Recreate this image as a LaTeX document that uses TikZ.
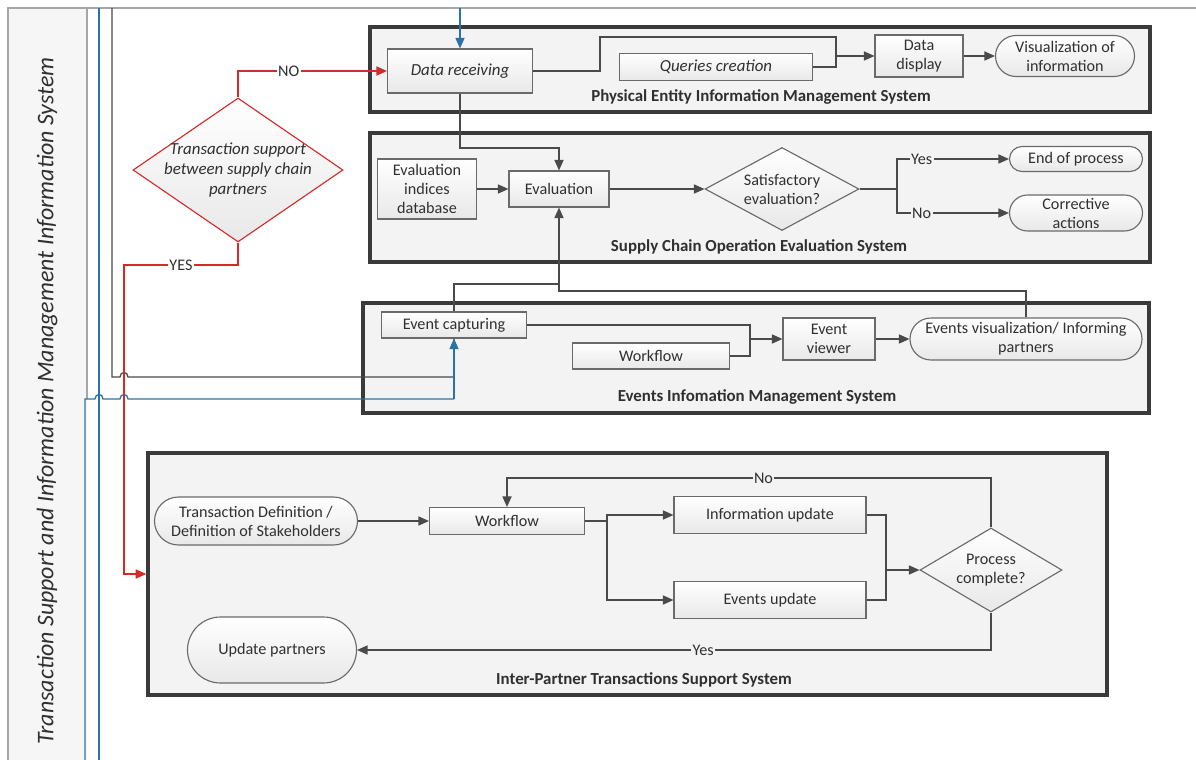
\documentclass[tikz,border=0pt]{standalone}
\usepackage{fontspec}
\setmainfont{Carlito}
\usetikzlibrary{arrows.meta,shapes.geometric,shadows,calc}
\definecolor{lred}{HTML}{D42A2A}
\definecolor{lblue}{HTML}{2A72A8}
\definecolor{lgray}{HTML}{4A4A4A}
\definecolor{bord}{HTML}{6A6A6A}
\definecolor{pbord}{HTML}{3A3A3A}
\definecolor{txt}{HTML}{303030}
\definecolor{pfill}{HTML}{F3F3F3}
\begin{document}
\begin{tikzpicture}[x=0.025cm,y=-0.025cm,
  font=\fontsize{11.5}{13.5}\selectfont, text=txt,
  itf/.style={font=\itshape\fontsize{12}{14}\selectfont},
  sz/.style 2 args={minimum width=#1*0.025cm, minimum height=#2*0.025cm},
  proc/.style={rectangle,draw=bord,line width=0.8pt,top color=white,bottom color=gray!18,inner sep=1pt,align=center},
  term/.style={proc,rounded corners=#1*0.025cm},
  dec/.style={diamond,draw=bord,line width=0.8pt,top color=white,bottom color=gray!18,inner sep=0pt,align=center},
  panel/.style={rectangle,draw=pbord,line width=2.5pt,fill=pfill,drop shadow={shadow xshift=1.5pt,shadow yshift=-1.5pt,opacity=0.25}},
  ttl/.style={font=\bfseries\fontsize{12}{14}\selectfont,inner sep=1pt},
  conn/.style={draw=lgray,line width=0.9pt},
  arr/.style={conn,-{Triangle[length=7.5pt,width=6.5pt]}},
  barr/.style={draw=lblue,line width=0.9pt,-{Triangle[length=7.5pt,width=6.5pt]}},
  bline/.style={draw=lblue,line width=0.9pt},
  rline/.style={draw=lred,line width=0.9pt},
  rarr/.style={rline,-{Triangle[length=7.5pt,width=6.5pt]}},
  lbl/.style={fill=white,inner sep=1pt},
  plbl/.style={fill=pfill,inner sep=1pt}
]
\useasboundingbox (0,0) rectangle (1196,760);
\fill[white] (0,0) rectangle (1196,760);
% left lane
\fill[gray!7] (8,8) rectangle (87,760);
\draw[gray!70,line width=0.8pt] (8,760) -- (8,8) -- (1196,8);
\draw[gray!70,line width=0.8pt] (87,8) -- (87,399);
\node[rotate=90,font=\itshape\fontsize{17}{19}\selectfont] (lane) at (47,401) {Transaction Support and Information Management Information System};
\draw[bline] (99,8) -- (99,760);

% panels
\node[panel,sz={780}{85}] (p1) at (760,69.5) {};
\node[panel,sz={780}{129}] (p2) at (760,197.5) {};
\node[panel,sz={786}{110}] (p3) at (756,358) {};
\node[panel,sz={959}{242}] (p4) at (627.5,574) {};
\node[ttl] (t1) at (761,97) {Physical Entity Information Management System};
\node[ttl] (t2) at (759,247) {Supply Chain Operation Evaluation System};
\node[ttl] (t3) at (757,397) {Events Infomation Management System};
\node[ttl] (t4) at (644,680) {Inter-Partner Transactions Support System};

% panel 1
\node[proc,itf,sz={145}{44}] (dr) at (460,71) {Data receiving};
\node[proc,itf,sz={193}{27}] (qc) at (716,67) {Queries creation};
\node[proc,sz={88}{42}] (dd) at (919,56) {Data\\display};
\node[term=20.5,sz={139}{41}] (vi) at (1065,56) {Visualization of\\information};
\coordinate (j1) at (836,56);
\draw[conn] (dr.east) -- (600,71) -- (600,37) -- (836,37) -- (j1);
\draw[conn] (qc.east) -| (j1);
\draw[arr] (j1) -- (dd.west);
\draw[arr] (dd.east) -- (vi.west);
\coordinate (btop) at (460,8);
\draw[barr] (btop) -- (dr.north);

% decision
\node[dec,draw=lred,sz={210}{144}] (tsd) at (238,170) {};
\node[itf,align=center,inner sep=0pt] (tsdt) at (238,170) {Transaction support\\between supply chain\\partners};
\draw[rarr] (tsd.north) |- node[lbl,pos=0.67]{NO} (dr.west);

% panel 2
\node[proc,sz={99}{60}] (eid) at (427,189) {Evaluation\\indices\\database};
\node[proc,sz={100}{36}] (ev) at (559,189) {Evaluation};
\node[dec,sz={154}{83}] (se) at (782,189) {};
\node[align=center,inner sep=0pt] (set) at (782,189) {Satisfactory\\evaluation?};
\node[term=12.5,sz={133}{25}] (eop) at (1076,159) {End of process};
\node[term=18,sz={133}{36}] (ca) at (1076,213) {Corrective\\actions};
\draw[arr] (eid.east) -- (ev.west);
\coordinate (j2) at (460,148);
\draw[arr] (dr.south) -- (j2) -| (ev.north);
\draw[arr] (ev.east) -- (se.west);
\coordinate (j3) at (897,189);
\draw[conn] (se.east) -- (j3);
\draw[arr] (j3) |- node[plbl,pos=0.61]{Yes} (eop.west);
\draw[arr] (j3) |- node[plbl,pos=0.61]{No} (ca.west);

% panel 3
\node[proc,sz={145}{26}] (ec) at (454,325) {Event capturing};
\node[proc,sz={157}{26}] (wf1) at (651,356) {Workflow};
\node[proc,sz={92}{42}] (evv) at (829,339) {Event\\viewer};
\node[term=21,sz={232}{42}] (evis) at (1026,339) {Events visualization/ Informing\\partners};
\coordinate (j4) at (750,339);
\draw[conn] (ec.east) -| (j4);
\draw[conn] (wf1.east) -| (j4);
\draw[arr] (j4) -- (evv.west);
\draw[arr] (evv.east) -- (evis.west);
\coordinate (j5) at (559,291);
\draw[conn] (ec.north) -- (454,284) -- (559,284);
\draw[arr] (evis.north) |- (j5) -- (ev.south);

% left connectors
\draw[conn] (112,8) -- (112,377) -- (120,377) .. controls (120,371) and (128,371) .. (128,377) -- (454,377) -- (ec.south);
\draw[bline] (85,760) -- (85,399) -- (95,399) .. controls (95,393) and (103,393) .. (103,399) -- (120,399) .. controls (120,393) and (128,393) .. (128,399) -- (454,399);
\coordinate (j8) at (454,399);
\draw[barr] (j8) -- (ec.south);
\draw[rarr] (tsd.south) -- (238,265) -- node[lbl]{YES} (124,265) -- (124,574) -- (p4.west);

% panel 4
\node[term=24,sz={203}{48}] (td) at (256,521) {Transaction Definition /\\Definition of Stakeholders};
\node[proc,sz={155}{27}] (wf2) at (507,521) {Workflow};
\node[proc,sz={192}{37}] (iu) at (770,515) {Information update};
\node[proc,sz={192}{37}] (eu) at (770,600) {Events update};
\node[dec,sz={142}{84}] (pc) at (991,570) {};
\node[align=center,inner sep=0pt] (pct) at (991,570) {Process\\complete?};
\node[term=33,sz={169}{66}] (up) at (272,650) {Update partners};
\draw[arr] (td.east) -- (wf2.west);
\coordinate (j6) at (607,521);
\draw[conn] (wf2.east) -- (j6);
\draw[arr] (j6) |- (iu.west);
\draw[arr] (j6) |- (eu.west);
\coordinate (j7) at (886,570);
\draw[conn] (iu.east) -| (j7);
\draw[conn] (eu.east) -| (j7);
\draw[arr] (j7) -- (pc.west);
\coordinate (j9) at (991,478);
\draw[arr] (pc.north) -- (j9) -| node[plbl,pos=0.235]{No} (wf2.north);
\draw[arr] (pc.south) |- node[plbl,pos=0.727]{Yes} (up.east);
\end{tikzpicture}
\end{document}
